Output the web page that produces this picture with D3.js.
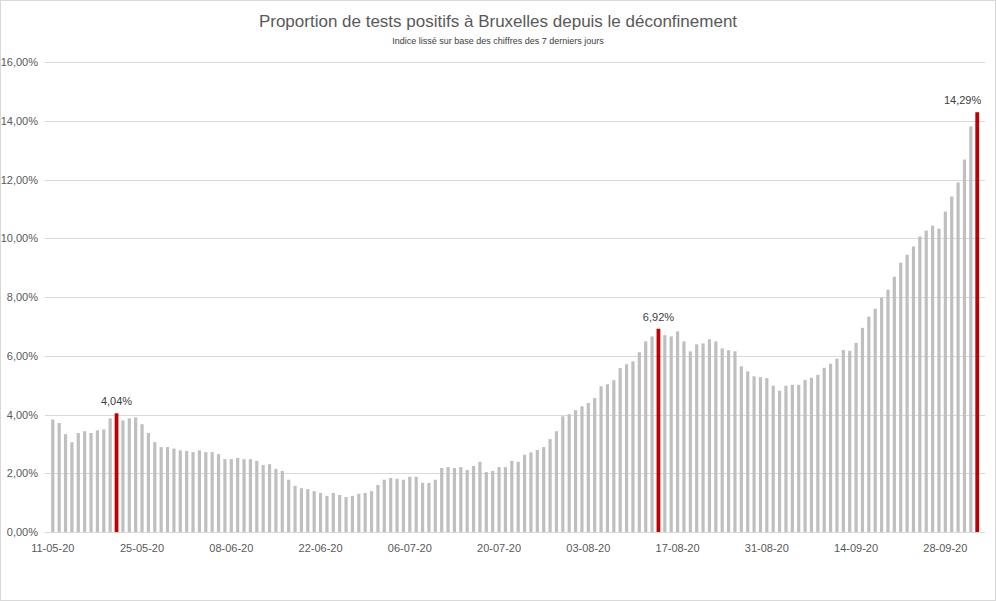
<!DOCTYPE html>
<html>
<head>
<meta charset="utf-8">
<script src="https://cdn.jsdelivr.net/npm/d3@7"></script>
<style>
  body { margin: 0; background: #fff; }
  text { font-family: "Liberation Sans", Arial, sans-serif; fill: #595959; }
</style>
</head>
<body>
<div id="chart"></div>
<script>
// daily smoothed positivity rate, from 11-05-2020
var startDate = new Date(2020, 4, 11)
var values = [
  3.83, 3.71, 3.33, 3.06, 3.37, 3.43, 3.37, 3.46, 3.49, 3.87,
  4.04, 3.80, 3.87, 3.90, 3.67, 3.37, 3.06, 2.89, 2.89, 2.84,
  2.78, 2.76, 2.72, 2.78, 2.72, 2.72, 2.65, 2.48, 2.48, 2.52,
  2.48, 2.48, 2.42, 2.28, 2.31, 2.15, 2.08, 1.78, 1.57, 1.49,
  1.46, 1.39, 1.33, 1.23, 1.33, 1.26, 1.19, 1.23, 1.30, 1.33,
  1.39, 1.60, 1.78, 1.84, 1.81, 1.78, 1.88, 1.88, 1.67, 1.67,
  1.78, 2.18, 2.21, 2.18, 2.21, 2.11, 2.25, 2.39, 2.04, 2.08,
  2.21, 2.21, 2.42, 2.39, 2.63, 2.71, 2.79, 2.89, 3.16, 3.43,
  3.94, 4.01, 4.15, 4.28, 4.39, 4.56, 4.96, 5.03, 5.17, 5.58,
  5.71, 5.81, 6.12, 6.49, 6.66, 6.92, 6.70, 6.66, 6.83, 6.49,
  6.15, 6.39, 6.42, 6.56, 6.49, 6.25, 6.19, 6.15, 5.64, 5.47,
  5.30, 5.27, 5.24, 4.98, 4.81, 4.98, 5.01, 5.01, 5.18, 5.25,
  5.35, 5.59, 5.73, 5.90, 6.20, 6.17, 6.44, 6.95, 7.33, 7.60,
  7.98, 8.25, 8.69, 9.17, 9.44, 9.72, 10.06, 10.26, 10.43, 10.33,
  10.91, 11.42, 11.90, 12.68, 13.81, 14.29
]
var highlighted = [10, 95, 145]
var yTicks = [0, 2, 4, 6, 8, 10, 12, 14, 16]

var dates = values.map(function(v, i){ return d3.timeDay.offset(startDate, i) })
var fmtDate = d3.timeFormat('%d-%m-%y')
var fmtPct = function(v){ return v.toFixed(2).replace('.', ',') + '%' }

var W = 996, H = 601
var svg = d3.select('#chart').append('svg').attr('width', W).attr('height', H)

svg.append('rect')
  .attr('x', 0.5).attr('y', 0.5).attr('width', W - 1).attr('height', H - 1)
  .attr('fill', '#fff').attr('stroke', '#d9d9d9')

var x = d3.scaleBand().domain(d3.range(values.length)).range([48, 982]).padding(0.5)
var y = d3.scaleLinear().domain([0, 16]).range([532, 62])

// gridlines
svg.append('g').selectAll('line').data(yTicks.slice(1)).join('line')
  .attr('x1', 45).attr('x2', 985)
  .attr('y1', function(d){ return Math.round(y(d)) + 0.5 })
  .attr('y2', function(d){ return Math.round(y(d)) + 0.5 })
  .attr('stroke', '#d9d9d9')

svg.append('g').selectAll('text').data(yTicks).join('text')
  .attr('x', 38).attr('y', function(d){ return y(d) + 4 })
  .attr('text-anchor', 'end').style('font-size', '11px')
  .text(function(d){ return d.toFixed(2).replace('.', ',') + '%' })

// bars
svg.append('g').selectAll('rect').data(values).join('rect')
  .attr('x', function(d, i){ return x(i) + (highlighted.includes(i) ? -0.3 : 0) })
  .attr('width', function(d, i){ return highlighted.includes(i) ? x.bandwidth() + 0.6 : x.bandwidth() })
  .attr('y', function(d){ return y(d) })
  .attr('height', function(d){ return y(0) - y(d) })
  .attr('fill', function(d, i){ return highlighted.includes(i) ? '#c00000' : '#bfbfbf' })

svg.append('g').selectAll('text').data(highlighted).join('text')
  .attr('x', function(i){ return x(i) + x.bandwidth() / 2 })
  .attr('y', function(i){ return y(values[i]) - 8 })
  .attr('text-anchor', function(i){ return i === values.length - 1 ? 'end' : 'middle' })
  .attr('dx', function(i){ return i === values.length - 1 ? 4 : 0 })
  .style('font-size', '11px').style('fill', '#404040')
  .text(function(i){ return fmtPct(values[i]) })

// x axis
svg.append('line')
  .attr('x1', 45).attr('x2', 985).attr('y1', 532.5).attr('y2', 532.5)
  .attr('stroke', '#d9d9d9')

svg.append('g').selectAll('text').data(d3.range(0, values.length, 14)).join('text')
  .attr('x', function(i){ return x(i) + x.bandwidth() / 2 })
  .attr('y', 552).attr('text-anchor', 'middle').style('font-size', '11px')
  .text(function(i){ return fmtDate(dates[i]) })

svg.append('text').attr('x', W / 2).attr('y', 27).attr('text-anchor', 'middle')
  .style('font-size', '17px')
  .text('Proportion de tests positifs à Bruxelles depuis le déconfinement')
svg.append('text').attr('x', W / 2).attr('y', 44).attr('text-anchor', 'middle')
  .style('font-size', '9px').style('fill', '#404040')
  .text('Indice lissé sur base des chiffres des 7 derniers jours')
</script>
</body>
</html>
